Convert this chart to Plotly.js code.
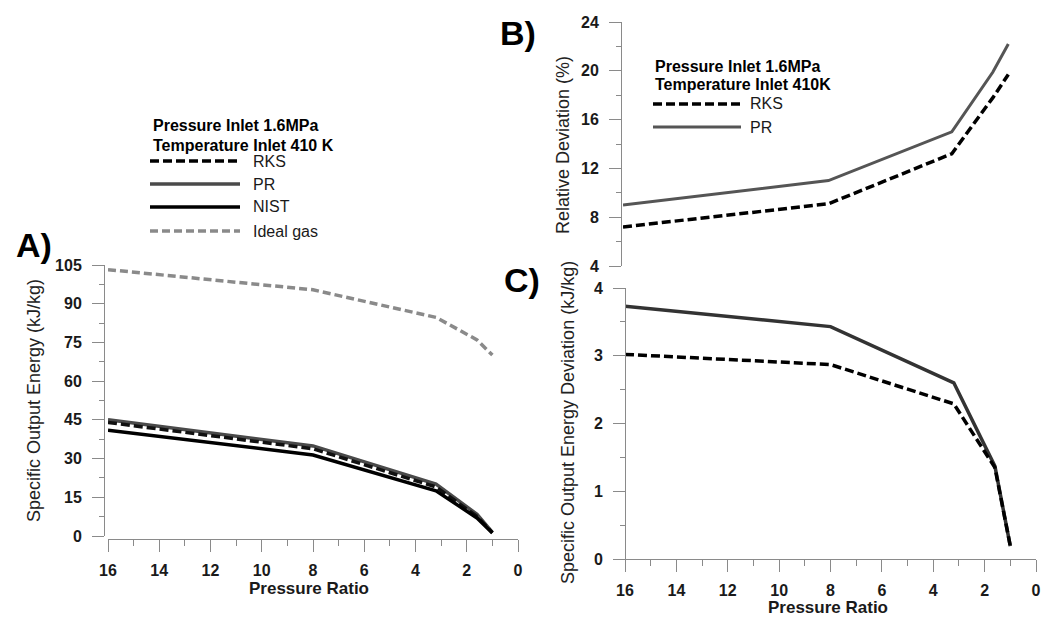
<!DOCTYPE html>
<html><head><meta charset="utf-8">
<script src="https://cdn.plot.ly/plotly-3.0.1.min.js"></script>
<style>html,body{margin:0;padding:0;background:#fff}#chart{width:1043px;height:621px}</style>
</head><body><div id="chart"></div>
<script>
// ---- data ----
const pressureRatio = [16, 8, 3.2, 1.6, 1];
// Panel A: specific output energy (kJ/kg)
const energyRKS   = [44.0, 33.8, 19.0, 7.6, 1.3];
const energyPR    = [45.0, 34.9, 20.1, 8.4, 1.4];
const energyNIST  = [41.0, 31.4, 17.5, 7.0, 1.2];
const energyIdeal = [103.2, 95.4, 84.7, 76.0, 70.1];
// Panel B: relative deviation (%)
const relDevRKS = [7.2, 9.1, 13.2, 17.8, 19.7];
const relDevPR  = [9.0, 11.0, 15.0, 19.9, 22.2];
// Panel C: specific output energy deviation (kJ/kg)
const energyDevRKS = [3.02, 2.87, 2.29, 1.35, 0.19];
const energyDevPR  = [3.73, 3.43, 2.60, 1.37, 0.19];

const W = 1043, H = 621;
const fx = v => v / W;
const fy = v => 1 - v / H;
const FONT = 'Liberation Sans, Arial, sans-serif';
const TXT = '#1a1a1a';
const AX = '#8a8a8a';

const traces = [
  {x: pressureRatio, y: energyPR, mode: 'lines', line: {color: '#4a4a4a', width: 3.5}, xaxis: 'x', yaxis: 'y', name: 'PR'},
  {x: pressureRatio, y: energyRKS, mode: 'lines', line: {color: '#111', width: 3.5, dash: '9px,4px'}, xaxis: 'x', yaxis: 'y', name: 'RKS'},
  {x: pressureRatio, y: energyNIST, mode: 'lines', line: {color: '#000', width: 3.5}, xaxis: 'x', yaxis: 'y', name: 'NIST'},
  {x: pressureRatio, y: energyIdeal, mode: 'lines', line: {color: '#8a8a8a', width: 3.5, dash: '8px,4px'}, xaxis: 'x', yaxis: 'y', name: 'Ideal gas'},
  {x: pressureRatio, y: relDevPR, mode: 'lines', line: {color: '#555', width: 3}, xaxis: 'x2', yaxis: 'y2', name: 'PR'},
  {x: pressureRatio, y: relDevRKS, mode: 'lines', line: {color: '#000', width: 3.5, dash: '9px,4px'}, xaxis: 'x2', yaxis: 'y2', name: 'RKS'},
  {x: pressureRatio, y: energyDevPR, mode: 'lines', line: {color: '#333', width: 3.5}, xaxis: 'x3', yaxis: 'y3', name: 'PR'},
  {x: pressureRatio, y: energyDevRKS, mode: 'lines', line: {color: '#000', width: 3.5, dash: '9px,4px'}, xaxis: 'x3', yaxis: 'y3', name: 'RKS'}
];

const tickfont = {family: FONT, size: 16, color: TXT, weight: 'bold'};
function xAxis(d0, d1, extra) {
  return Object.assign({
    domain: [fx(d0), fx(d1)], range: [16, 0], dtick: 2, tick0: 0,
    ticks: 'outside', ticklen: 12, tickwidth: 1, tickcolor: AX,
    minor: {dtick: 1, tick0: 0, ticks: 'outside', ticklen: 6, tickcolor: AX, tickwidth: 1, showgrid: false},
    showline: true, linecolor: AX, linewidth: 1, showgrid: false, zeroline: false,
    tickfont: tickfont, ticklabelstandoff: 5, fixedrange: true
  }, extra);
}
function yAxis(top, bottom, pos, range, dtick, extra) {
  return Object.assign({
    domain: [fy(bottom), fy(top)], range: range, dtick: dtick, tick0: 0,
    anchor: 'free', position: fx(pos),
    ticks: 'outside', ticklen: 12, tickwidth: 1, tickcolor: AX,
    minor: {dtick: dtick / 2, tick0: 0, ticks: 'outside', ticklen: 5, tickcolor: AX, tickwidth: 1, showgrid: false},
    showline: true, linecolor: AX, linewidth: 1, showgrid: false, zeroline: false,
    tickfont: tickfont, ticklabelstandoff: 7, fixedrange: true
  }, extra);
}

const layout = {
  width: W, height: H,
  margin: {l: 0, r: 0, t: 0, b: 0},
  paper_bgcolor: '#fff', plot_bgcolor: 'rgba(0,0,0,0)',
  showlegend: false,
  font: {family: FONT, color: TXT},
  xaxis: xAxis(108, 518, {anchor: 'free', position: fy(539)}),
  yaxis: yAxis(265, 536, 104, [0, 105], 15),
  xaxis2: {domain: [fx(623), fx(1034)], range: [16, 0], anchor: 'y2', visible: false, fixedrange: true},
  yaxis2: yAxis(22, 266, 621, [4, 24], 4),
  xaxis3: xAxis(625, 1036, {anchor: 'y3'}),
  yaxis3: yAxis(288, 559, 625, [0, 4], 1),
  shapes: [],
  annotations: []
};

function ann(text, x, y, opts) {
  layout.annotations.push(Object.assign({
    text: text, x: fx(x), y: fy(y), xref: 'paper', yref: 'paper',
    showarrow: false, xanchor: 'center', yanchor: 'middle', align: 'left',
    font: {family: FONT, size: 16, color: TXT}
  }, opts));
}
function legLine(x0, x1, y, line) {
  layout.shapes.push({type: 'line', xref: 'paper', yref: 'paper', x0: fx(x0), x1: fx(x1), y0: fy(y), y1: fy(y), line: line});
}

// Panel labels
ann('<b>A)</b>', 34, 245, {font: {family: FONT, size: 34, color: '#000'}});
ann('<b>B)</b>', 518, 33, {font: {family: FONT, size: 34, color: '#000'}});
ann('<b>C)</b>', 522, 280, {font: {family: FONT, size: 34, color: '#000'}});

// Axis titles
ann('<b>Pressure Ratio</b>', 309, 588, {font: {family: FONT, size: 17, color: TXT}});
ann('<b>Pressure Ratio</b>', 828, 607, {font: {family: FONT, size: 17, color: TXT}});
ann('Specific Output Energy (kJ/kg)', 34, 401, {textangle: -90, font: {family: FONT, size: 18, color: '#222'}});
ann('Relative Deviation (%)', 563, 145, {textangle: -90, font: {family: FONT, size: 18, color: '#222'}});
ann('Specific Output Energy Deviation (kJ/kg)', 568, 423, {textangle: -90, font: {family: FONT, size: 18, color: '#222'}});

// Legend A
const hdr = {family: FONT, size: 16, color: '#000'};
const lab = {family: FONT, size: 16, color: TXT};
ann('<b>Pressure Inlet 1.6MPa</b>', 151, 125, {xanchor: 'left', font: hdr});
ann('<b>Temperature Inlet 410 K</b>', 151, 145, {xanchor: 'left', font: hdr});
legLine(150, 240, 161, {color: '#000', width: 3.5, dash: '9px,4px'}); ann('RKS', 251, 161, {xanchor: 'left', font: lab});
legLine(150, 240, 184, {color: '#4a4a4a', width: 3.5}); ann('PR', 251, 184, {xanchor: 'left', font: lab});
legLine(150, 240, 207, {color: '#000', width: 3.5}); ann('NIST', 251, 207, {xanchor: 'left', font: lab});
legLine(150, 240, 231, {color: '#8a8a8a', width: 3.5, dash: '8px,4px'}); ann('Ideal gas', 251, 231, {xanchor: 'left', font: lab});

// Legend B
ann('<b>Pressure Inlet 1.6MPa</b>', 653, 66, {xanchor: 'left', font: hdr});
ann('<b>Temperature Inlet 410K</b>', 653, 85, {xanchor: 'left', font: hdr});
legLine(653, 741, 104, {color: '#000', width: 3.5, dash: '9px,4px'}); ann('RKS', 748, 104, {xanchor: 'left', font: lab});
legLine(653, 741, 127, {color: '#555', width: 3}); ann('PR', 748, 127, {xanchor: 'left', font: lab});

Plotly.newPlot('chart', traces, layout, {displayModeBar: false, staticPlot: true});
</script>
</body></html>
